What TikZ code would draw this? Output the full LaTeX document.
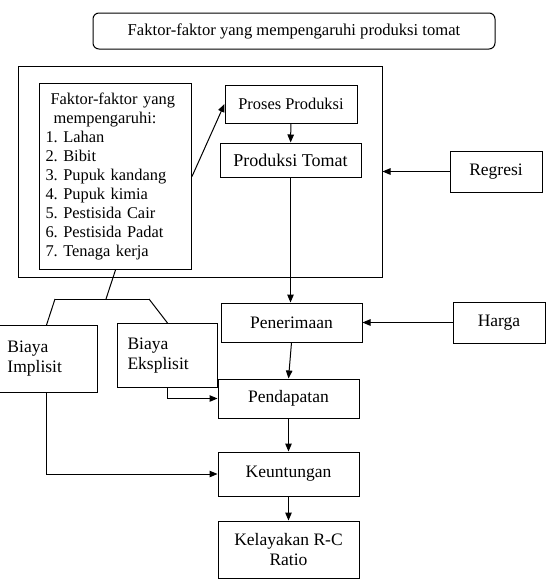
\documentclass[tikz,border=0pt]{standalone}
\usepackage{fontspec}
\setmainfont{Liberation Serif}
\usetikzlibrary{arrows.meta,positioning}
\frenchspacing

\begin{document}
\begin{tikzpicture}[x=1pt,y=-1pt,line width=1pt,>={Triangle[length=8pt,width=6.5pt]},
    box/.style={draw,inner sep=0pt,font=\fontsize{17.5}{20}\selectfont},
    leftbox/.style={box,anchor=north west,align=left,inner sep=8pt,text width=80pt}]
            \useasboundingbox (0,0) rectangle (552,584);
            \node[box, rounded corners=6pt, minimum width=402, minimum height=36,
                  font=\fontsize{16.6}{19}\selectfont] (judul) at (294,31)
                  {Faktor-faktor yang mempengaruhi produksi tomat};
            \node[draw, minimum width=364, minimum height=211] (kerangka) at (200,171.5) {};
            \node[draw, anchor=north west, minimum width=152, minimum height=186, inner sep=6pt,
                  text width=140pt, align=left, font=\fontsize{16.4}{19}\selectfont] (faktor) at (39,83)
                  {\hspace*{5pt}Faktor-faktor yang\\ \hspace*{8pt}mempengaruhi:\\ 1. Lahan\\ 2. Bibit\\
                   3. Pupuk kandang\\ 4. Pupuk kimia\\ 5. Pestisida Cair\\ 6. Pestisida Padat\\ 7. Tenaga kerja};
            \node[box, minimum width=132, minimum height=38, font=\fontsize{16.4}{19}\selectfont] (proses) at (291,104) {Proses Produksi};
            \node[box, minimum width=141, minimum height=34, font=\fontsize{18}{20}\selectfont] (tomat) at (290.5,160) {Produksi Tomat};
            \node[box, minimum width=92, minimum height=41] (regresi) at (496,171.5) {Regresi};
            \node[box, minimum width=141, minimum height=39] (terima) at (291.5,322.5) {Penerimaan};
            \node[box, minimum width=92, minimum height=41] (harga) at (499,322.5) {Harga};
            \node[leftbox, minimum width=86, minimum height=67, inner xsep=10pt] (implisit) at (-3,325) {Biaya\\Implisit};
            \node[leftbox, minimum width=91, minimum height=64, inner sep=10pt] (eksplisit) at (117,323) {Biaya\\Eksplisit};
            \node[box, minimum width=141, minimum height=39] (dapat) at (288.5,398.5) {Pendapatan};
            \node[box, minimum width=141, minimum height=44] (untung) at (288.5,474) {Keuntungan};
            \node[box, minimum width=141, minimum height=57, align=center] (layak) at (288.5,549.5) {Kelayakan R-C\\Ratio};
            \coordinate (cabang) at (106,299);
            \coordinate (cabangkiri) at (55,299);
            \coordinate (cabangkanan) at (149,299);
            \draw (faktor.south) -- (cabang);
            \draw (cabangkiri) -- (cabangkanan);
            \draw (cabangkiri) -- ([xshift=-1pt]implisit.north);
            \draw (cabangkanan) -- (eksplisit.north);
            \draw[->] (faktor.east) -- (proses.west);
            \draw[->] (proses) -- (tomat);
            \draw[->] (tomat.south) -- (terima.north -| tomat.south);
            \draw[->] (regresi) -- (kerangka.east);
            \draw[->] (harga) -- (terima);
            \draw[->] (terima.south) -- (dapat.north);
            \draw[->] (dapat) -- (untung);
            \draw[->] (untung) -- (layak);
            \draw[->] (eksplisit.south) |- (dapat.west);
            \draw[->] ([xshift=-1pt]implisit.south) |- (untung.west);
        \end{tikzpicture}
\end{document}
